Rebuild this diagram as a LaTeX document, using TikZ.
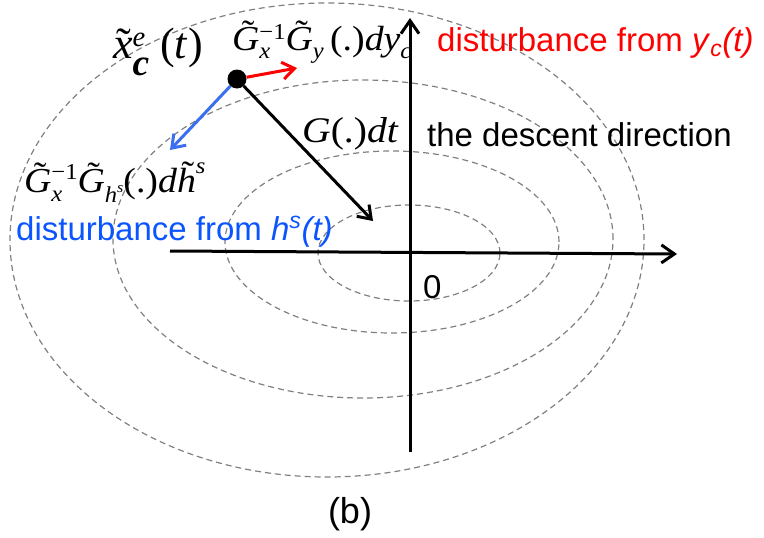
\RequirePackage{fix-cm}
\documentclass[tikz,border=0pt]{standalone}
\usepackage{fontspec}
\setmainfont{Liberation Serif}
\setsansfont{Liberation Sans}
\usetikzlibrary{arrows.meta}
\definecolor{dashgray}{RGB}{128,128,128}
\definecolor{myred}{RGB}{255,0,0}
\definecolor{myblue}{RGB}{10,85,255}
\definecolor{arrowblue}{RGB}{60,110,240}
\newcommand{\mi}[1]{\textit{#1}}
\newcommand{\shift}[3][0.65]{\raisebox{#2}{\scalebox{#1}{#3}}}
\newsavebox\tildebox
\newcommand{\tl}[3]{\sbox\tildebox{#1}\makebox[0pt][l]{\makebox[\wd\tildebox][c]{\hspace{#3}\raisebox{#2}{\char"02DC}}}\usebox\tildebox}
\newcommand{\tGG}{\tl{\textit{G}}{0.16em}{0.12em}}
\begin{document}
\begin{tikzpicture}[x=1pt,y=-1pt,
  contour/.style={draw=dashgray,dash pattern=on 6pt off 4pt,line width=1.2pt},
  axis/.style={line width=3pt,-{Straight Barb[length=13pt,width=18pt]}},
  vec/.style={line width=3pt,-{Straight Barb[length=12pt,width=17pt]}},
  eq/.style={inner sep=0pt,anchor=base west,font=\fontsize{35}{40}\selectfont},
  lab/.style={inner sep=0pt,anchor=base west,font=\sffamily\fontsize{33}{38}\selectfont}]
\useasboundingbox (0,0) rectangle (764,538);
% level curves
\draw[contour] (409,253) ellipse [x radius=91pt, y radius=48pt];
\draw[contour] (392,242) ellipse [x radius=167pt, y radius=91pt];
\draw[contour] (363,239) ellipse [x radius=250pt, y radius=159pt];
\draw[contour] (327,240) ellipse [x radius=317pt, y radius=237pt];
% axes
\coordinate (xl) at (170,251);
\coordinate (xr) at (677,254);
\coordinate (yb) at (410,452);
\coordinate (yt) at (410,18);
\draw[axis] (xl) -- (xr);
\draw[axis] (yb) -- (yt);
% point and vectors
\node[circle,fill=black,inner sep=0pt,minimum size=19pt] (P) at (237,79) {};
\coordinate (redtip) at (297,68);
\coordinate (bluetip) at (170,150);
\coordinate (blacktip) at (373,221);
\draw[vec,myred] (P) -- (redtip);
\draw[vec,arrowblue] (P) -- (bluetip);
\draw[vec,black] (P) -- (blacktip);
% labels
\node[eq,font=\fontsize{44}{48}\selectfont] (xlab) at (113,58)
  {\tl{\textit{x}}{0pt}{0.04em}\rlap{\shift{0.27em}{\textit{e}}}\shift[0.85]{-0.4em}{\textbf{\textit{c}}}\hspace{11pt}(\textit{t})};
\node[eq] (gylab) at (232,50)
  {\scalebox{1.08}[1]{\tGG\rlap{\shift{-0.23em}{\textit{x}}}\shift{0.3em}{−1}\tGG\shift{-0.23em}{\textit{y}}\,(.)\textit{dy}\shift{-0.23em}{\textit{c}}}};
\node[eq] (ghlab) at (24,192)
  {\scalebox{1.08}[1]{\tGG\rlap{\shift{-0.26em}{\textit{x}}}\shift{0.37em}{−1}\tGG\shift{-0.31em}{\textit{h}\shift{0.45em}{\textit{s}}}(.)\textit{d}\tl{\textit{h}}{0.2em}{0.08em}\shift{0.54em}{\textit{s}}}};
\node[eq,font=\fontsize{36}{40}\selectfont] (gdt) at (302,142) {\scalebox{1.1}[1]{\mi{G}(.)\mi{dt}}};
\node[lab] (desc) at (427,146) {the descent direction};
\node[lab,text=myred] (redlab) at (437,52) {disturbance from \textit{y}\textsubscript{\textit{c}}\textit{(t)}};
\node[lab,text=myblue] (bluelab) at (16,240) {disturbance from \textit{h}\textsuperscript{\textit{s}}\textit{(t)}};
\node[lab] (zero) at (423,298) {0};
\node[inner sep=0pt,anchor=base,font=\sffamily\fontsize{36}{40}\selectfont] (cap) at (350,523) {(b)};
\end{tikzpicture}
\end{document}
